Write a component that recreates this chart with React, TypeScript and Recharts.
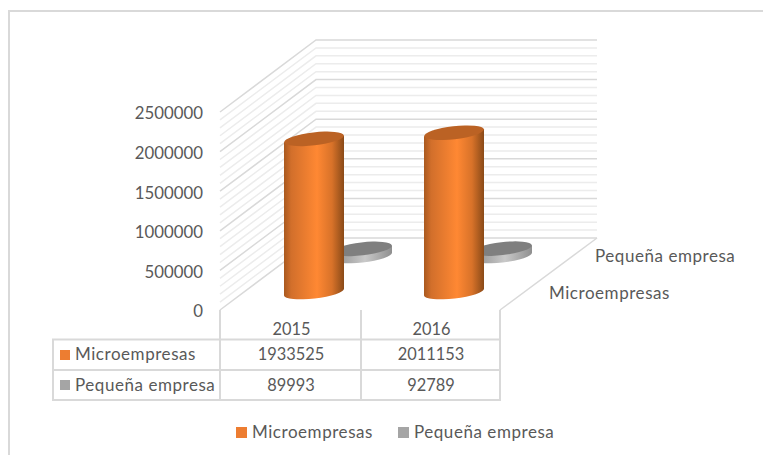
import { Bar, BarChart, CartesianGrid, XAxis, YAxis } from "recharts";

const categories = ["2015", "2016"];
const microempresas = [1933525, 2011153];
const pequenaEmpresa = [89993, 92789];
const seriesNames = ["Microempresas", "Pequeña empresa"];
const yTicks = [0, 500000, 1000000, 1500000, 2000000, 2500000];
const minorGrid = [
  100000, 200000, 300000, 400000, 600000, 700000, 800000, 900000, 1100000, 1200000, 1300000, 1400000,
  1600000, 1700000, 1800000, 1900000, 2100000, 2200000, 2300000, 2400000,
];

const data = categories.map((year, i) => ({
  year,
  micro: microempresas[i],
  pequena: pequenaEmpresa[i],
}));

const FONT = "Lato, sans-serif";
const TEXT = "#595959";
const LINE = "#d9d9d9";
const NAME_SPACING = 0.55;
// oblique depth of the floor
const DEPTH_X = 96;
const DEPTH_Y = 72;

function wallLine(stroke: string, strokeWidth: number) {
  return ({ x1, y1, x2, key }: any) => (
    // side wall then back wall
    <polyline
      key={key}
      points={`${x1},${y1} ${x1 + DEPTH_X},${y1 - DEPTH_Y} ${x2 + DEPTH_X + 1},${y1 - DEPTH_Y}`}
      fill="none"
      stroke={stroke}
      strokeWidth={strokeWidth}
    />
  );
}

function Cylinder({ x, y, width, height, grad, topFill, depth }: any) {
  const dx = DEPTH_X * depth;
  const dy = DEPTH_Y * depth;
  const cx = x + width / 2 + dx;
  const top = y - dy;
  const base = y + height - dy;
  const rx = width / 2;
  const ry = 6.5;
  const tilt = -6.5;
  const drop = Math.tan((tilt * Math.PI) / 180) * rx;
  const side = `M${cx - rx},${top - drop} L${cx - rx},${base - drop} A${rx},${ry} ${tilt} 0 0 ${cx + rx},${base + drop} L${cx + rx},${top + drop} Z`;
  return (
    <g>
      <path d={side} fill={`url(#${grad})`} />
      <ellipse cx={cx} cy={top} rx={rx} ry={ry} fill={topFill} transform={`rotate(${tilt} ${cx} ${top})`} />
    </g>
  );
}

function TableTick({ x, payload, index }: any) {
  const i = payload.index ?? index;
  return (
    <g fontFamily={FONT} fontSize={16.4} fill={TEXT} textAnchor="middle">
      <text x={x + 1.5} y={335}>{payload.value}</text>
      <text x={x + 1} y={360}>{microempresas[i]}</text>
      <text x={x + 1} y={391}>{pequenaEmpresa[i]}</text>
    </g>
  );
}

function TableFrame() {
  return (
    <g stroke={LINE} strokeWidth={2} fill="none">
      <line x1={220} y1={310} x2={220} y2={400} />
      <line x1={361} y1={310} x2={361} y2={400} />
      <line x1={500} y1={310} x2={500} y2={400} />
      <line x1={500} y1={310} x2={597} y2={238} strokeWidth={1.5} />
      <rect x={53} y={339.5} width={447} height={60.5} />
      <line x1={53} y1={370} x2={500} y2={370} />
      <rect x={60} y={350} width={10} height={10} fill="#ed7d31" stroke="none" />
      <rect x={60} y={380} width={10} height={10} fill="#a5a5a5" stroke="none" />
      <g fontFamily={FONT} fontSize={17} fill={TEXT} stroke="none" letterSpacing={NAME_SPACING}>
        <text x={75} y={360}>{seriesNames[0]}</text>
        <text x={75} y={391}>{seriesNames[1]}</text>
        <text x={595} y={262}>{seriesNames[1]}</text>
        <text x={549} y={299}>{seriesNames[0]}</text>
      </g>
    </g>
  );
}

function LegendRow() {
  return (
    <div style={{ position: "absolute", left: 236, top: 421, display: "flex", fontFamily: FONT, fontSize: 17, color: TEXT, lineHeight: "22px", letterSpacing: NAME_SPACING, whiteSpace: "nowrap" }}>
      {seriesNames.map((name, i) => (
        <span key={name} style={{ display: "flex", alignItems: "center", marginRight: 25 }}>
          <span style={{ width: 11, height: 11, marginRight: 5, background: i === 0 ? "#ed7d31" : "#a5a5a5" }} />
          {name}
        </span>
      ))}
    </div>
  );
}

export default function App() {
  return (
    <div style={{ position: "absolute", left: 0, top: 0, width: 763, height: 455, background: "#fff", overflow: "hidden" }}>
      <div style={{ position: "absolute", left: 8, top: 10, width: 800, height: 500, border: "2px solid #d9d9d9" }} />
      <BarChart
        width={763}
        height={455}
        data={data}
        barGap={-60}
        barSize={60}
        margin={{ top: 112, right: 263, bottom: 115, left: 140 }}
        style={{ position: "absolute", left: 0, top: 0 }}
      >
        <defs>
          <linearGradient id="orangeSide" x1="0" x2="1" y1="0" y2="0">
            <stop offset="0" stopColor="#a9591f" />
            <stop offset="0.12" stopColor="#d26f2b" />
            <stop offset="0.55" stopColor="#ff8833" />
            <stop offset="0.8" stopColor="#d87229" />
            <stop offset="1" stopColor="#8a4a18" />
          </linearGradient>
          <linearGradient id="greySide" x1="0" x2="1" y1="0" y2="0">
            <stop offset="0" stopColor="#8c8c8c" />
            <stop offset="0.55" stopColor="#c9c9c9" />
            <stop offset="1" stopColor="#8f8f8f" />
          </linearGradient>
        </defs>
        <CartesianGrid vertical={false} horizontalValues={minorGrid} horizontal={wallLine("#ececec", 1.5)} />
        <CartesianGrid vertical={false} horizontalValues={yTicks} horizontal={wallLine(LINE, 1.5)} />
        <XAxis dataKey="year" height={30} axisLine={false} tickLine={false} tick={<TableTick />} interval={0} />
        <YAxis
          domain={[0, 2500000]}
          ticks={yTicks}
          width={80}
          interval={0}
          axisLine={false}
          tickLine={false}
          tick={{ fontFamily: FONT, fontSize: 16.8, fill: TEXT, dy: 1.5 }}
          tickMargin={11}
        />
        <Bar
          dataKey="pequena"
          name={seriesNames[1]}
          isAnimationActive={false}
          shape={(p: any) => <Cylinder {...p} grad="greySide" topFill="#7f7f7f" depth={0.75} />}
        />
        <Bar
          dataKey="micro"
          name={seriesNames[0]}
          isAnimationActive={false}
          shape={(p: any) => <Cylinder {...p} grad="orangeSide" topFill="#bb6224" depth={0.25} />}
        />
        <TableFrame />
      </BarChart>
      <LegendRow />
    </div>
  );
}
